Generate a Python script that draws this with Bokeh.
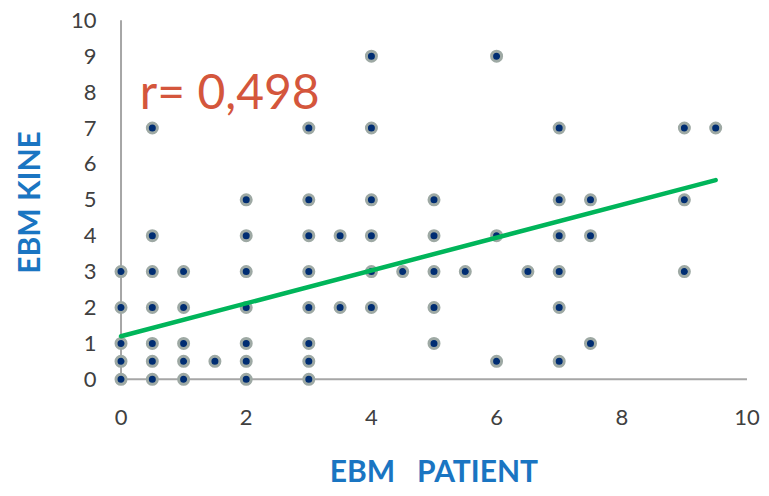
from bokeh.plotting import figure
from bokeh.models import ColumnDataSource, Label, FixedTicker
from bokeh.embed import file_html
from bokeh.resources import INLINE

# Data (EBM PATIENT, EBM KINE)
patient = [0, 0.5, 1, 2, 3,
           0, 0.5, 1, 1.5, 2, 3, 6, 7,
           0, 0.5, 1, 2, 3, 5, 7.5,
           0, 0.5, 1, 2, 3, 3.5, 4, 5, 7,
           0, 0.5, 1, 2, 3, 4, 4.5, 5, 5.5, 6.5, 7, 9,
           0.5, 2, 3, 3.5, 4, 5, 6, 7, 7.5,
           2, 3, 4, 5, 7, 7.5, 9,
           0.5, 3, 4, 7, 9, 9.5,
           4, 6]
kine = [0, 0, 0, 0, 0,
        0.5, 0.5, 0.5, 0.5, 0.5, 0.5, 0.5, 0.5,
        1, 1, 1, 1, 1, 1, 1,
        2, 2, 2, 2, 2, 2, 2, 2, 2,
        3, 3, 3, 3, 3, 3, 3, 3, 3, 3, 3, 3,
        4, 4, 4, 4, 4, 4, 4, 4, 4,
        5, 5, 5, 5, 5, 5, 5,
        7, 7, 7, 7, 7, 7,
        9, 9]

trend_x = [0, 9.5]
trend_y = [1.2, 5.55]

x_ticks = [0, 2, 4, 6, 8, 10]
y_ticks = [0, 1, 2, 3, 4, 5, 6, 7, 8, 9, 10]
axis_x = [0, 10]
axis_y = [0, 10]

x_title = "EBM\u00a0\u00a0 PATIENT"
y_title = "EBM KINE"
r_text = "r= 0,498"

FONT = "Lato"
TITLE_COLOR = "#1a75c2"

p = figure(width=769, height=496, output_backend="svg", toolbar_location=None,
           x_range=(-0.2, 10.2), y_range=(-0.2, 10.05),
           min_border_left=108, min_border_right=10, min_border_top=18, min_border_bottom=110)
p.outline_line_color = None
p.xgrid.grid_line_color = None
p.ygrid.grid_line_color = None
p.background_fill_color = "white"
p.border_fill_color = "white"

for ax in (p.xaxis, p.yaxis):
    ax.axis_line_color = None
    ax.major_tick_line_color = None
    ax.minor_tick_line_color = None
    ax.major_tick_out = 0
    ax.major_tick_in = 0
    ax.major_label_text_font = FONT
    ax.major_label_text_font_size = "22px"
    ax.major_label_text_color = "#404040"
    ax.axis_label_text_font = FONT
    ax.axis_label_text_font_style = "bold"
    ax.axis_label_text_font_size = "30px"
    ax.axis_label_text_color = TITLE_COLOR

p.xaxis.ticker = FixedTicker(ticks=x_ticks)
p.yaxis.ticker = FixedTicker(ticks=y_ticks)
p.xaxis.axis_label = x_title
p.yaxis.axis_label = y_title
p.xaxis.major_label_standoff = 23
p.xaxis.axis_label_standoff = 24
p.yaxis.major_label_standoff = 12
p.yaxis.axis_label_standoff = 22

# axis lines at data 0
p.segment(x0=[axis_x[0]], y0=[axis_y[0]], x1=[axis_x[0]], y1=[axis_y[1]],
          line_color="#a6a6a6", line_width=2)
p.segment(x0=[axis_x[0]], y0=[axis_y[0]], x1=[axis_x[1]], y1=[axis_y[0]],
          line_color="#a6a6a6", line_width=2)

src = ColumnDataSource(dict(x=patient, y=kine))
p.scatter("x", "y", source=src, size=10, fill_color="#002d72",
          line_color="#9ea9a4", line_width=3)

p.line(trend_x, trend_y, line_color="#00b55a", line_width=4.5, line_cap="round")

p.add_layout(Label(x=0.3, y=8.05, text=r_text, text_font=FONT,
                   text_font_size="48px", text_color="#d4563c",
                   text_baseline="alphabetic", text_align="left"))

open("out.html", "w").write(file_html(p, INLINE))
